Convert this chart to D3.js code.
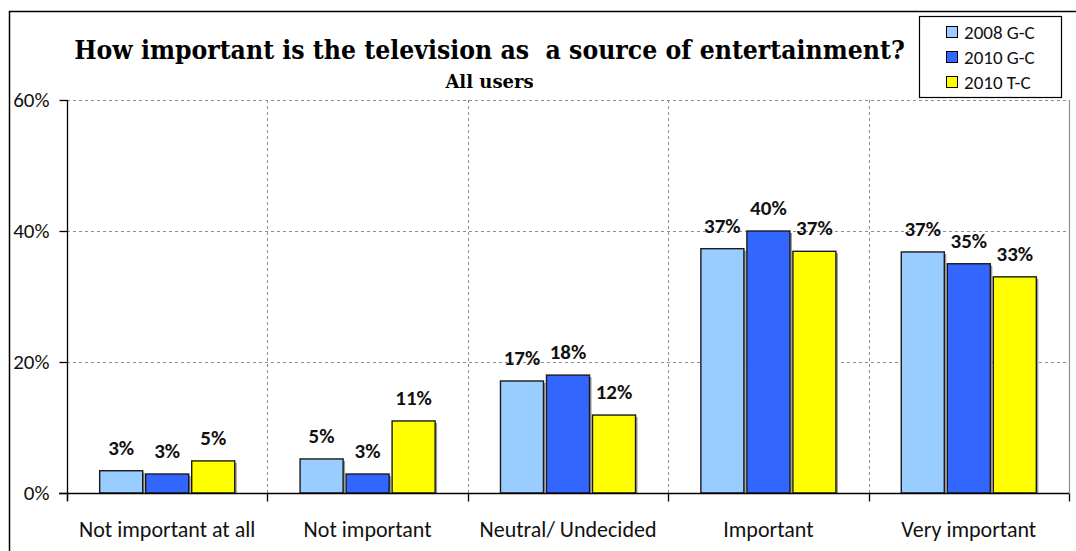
<!DOCTYPE html>
<html>
<head>
<meta charset="utf-8">
<script src="https://cdn.jsdelivr.net/npm/d3@7"></script>
<style>
  body { margin: 0; background: #fff; }
  svg { display: block; }
</style>
</head>
<body>
<div id="chart"></div>
<script>
// chart data
const categories = ["Not important at all", "Not important", "Neutral/ Undecided", "Important", "Very important"];
const seriesNames = ["2008 G-C", "2010 G-C", "2010 T-C"];
const gc2008 = [0.034, 0.052, 0.171, 0.373, 0.368];
const gc2010 = [0.029, 0.029, 0.180, 0.400, 0.350];
const tc2010 = [0.049, 0.110, 0.119, 0.369, 0.330];
const seriesColors = ["#99CCFF", "#3366FF", "#FFFF00"];
const yTicks = [0, 0.2, 0.4, 0.6];

const width = 1076, height = 551;
const margin = {top: 100, right: 7, bottom: 58, left: 67};
const bodyFont = "Carlito, Calibri, Lato, sans-serif";

const svg = d3.select("#chart").append("svg")
    .attr("width", width)
    .attr("height", height);

// outer chart border (runs off the picture on right/bottom)
svg.append("rect")
    .attr("x", 9.5).attr("y", 11.5)
    .attr("width", 1200).attr("height", 700)
    .attr("fill", "none")
    .attr("stroke", "#000")
    .attr("stroke-width", 1.5);

const x = d3.scaleBand()
    .domain(categories)
    .range([margin.left, width - margin.right]);

const y = d3.scaleLinear()
    .domain([0, 0.6])
    .range([height - margin.bottom, margin.top]);

// 3 bars of ~43px with 3px gaps inside a 200px category
const xSub = d3.scaleBand()
    .domain(seriesNames)
    .range([0, x.bandwidth()])
    .paddingInner(0.065)
    .paddingOuter(0.71);

const data = categories.map((c, i) => ({
    cat: c,
    vals: [gc2008[i], gc2010[i], tc2010[i]].map((v, j) => ({name: seriesNames[j], v: v, color: seriesColors[j]}))
}));

const x0 = margin.left, x1 = width - margin.right;
const yBase = y(0), yTop = y(0.6);

// horizontal dashed gridlines
svg.append("g").selectAll("line")
    .data(yTicks.filter(d => d > 0))
    .join("line")
    .attr("x1", x0).attr("x2", x1)
    .attr("y1", d => Math.round(y(d)) + 0.5)
    .attr("y2", d => Math.round(y(d)) + 0.5)
    .attr("stroke", "#8c8c8c")
    .attr("stroke-dasharray", "3,3");

// vertical dashed gridlines between categories
svg.append("g").selectAll("line")
    .data(categories.slice(1))
    .join("line")
    .attr("x1", d => Math.round(x(d)) + 0.5)
    .attr("x2", d => Math.round(x(d)) + 0.5)
    .attr("y1", yTop).attr("y2", yBase)
    .attr("stroke", "#8c8c8c")
    .attr("stroke-dasharray", "3,3");

// right plot border
svg.append("line")
    .attr("x1", x1 + 0.5).attr("x2", x1 + 0.5)
    .attr("y1", yTop).attr("y2", yBase)
    .attr("stroke", "#8c8c8c")
    .attr("stroke-width", 1.2);

// bars
const groups = svg.append("g").selectAll("g")
    .data(data)
    .join("g")
    .attr("transform", d => `translate(${x(d.cat)},0)`);

// little grey shadow at the bar edges
groups.selectAll("rect.shadow")
    .data(d => d.vals)
    .join("rect")
    .attr("class", "shadow")
    .attr("x", d => xSub(d.name) + 2)
    .attr("y", d => y(d.v) + 2)
    .attr("width", xSub.bandwidth())
    .attr("height", d => yBase - y(d.v) - 2)
    .attr("fill", "#9a9a9a");

groups.selectAll("rect.bar")
    .data(d => d.vals)
    .join("rect")
    .attr("class", "bar")
    .attr("x", d => xSub(d.name))
    .attr("y", d => y(d.v))
    .attr("width", xSub.bandwidth())
    .attr("height", d => yBase - y(d.v))
    .attr("fill", d => d.color)
    .attr("stroke", "#1a1a1a")
    .attr("stroke-width", 1.4);

// value labels
groups.selectAll("text")
    .data(d => d.vals)
    .join("text")
    .attr("x", d => xSub(d.name) + xSub.bandwidth() / 2)
    .attr("y", d => y(d.v) - 16)
    .attr("text-anchor", "middle")
    .attr("font-family", bodyFont)
    .attr("font-weight", "bold")
    .attr("font-size", 21)
    .attr("fill", "#111")
    .text(d => d3.format(".0%")(d.v));

// y axis
const yAxis = d3.axisLeft(y)
    .tickValues(yTicks)
    .tickFormat(d3.format(".0%"))
    .tickSize(8)
    .tickPadding(10);

const gy = svg.append("g")
    .attr("transform", `translate(${x0 + 0.5},0)`)
    .call(yAxis);
gy.select(".domain").attr("d", `M0,${yTop}V${yBase + 8}`).attr("stroke", "#000").attr("stroke-width", 1.3);
gy.selectAll(".tick line").attr("stroke", "#000").attr("stroke-width", 1.3);
gy.selectAll(".tick text")
    .attr("font-family", bodyFont)
    .attr("font-size", 21)
    .attr("fill", "#111");

// x axis: ticks sit on category boundaries
const gx = svg.append("g").attr("transform", `translate(0,${yBase + 0.5})`);
gx.append("line")
    .attr("x1", x0 - 8).attr("x2", x1)
    .attr("stroke", "#000").attr("stroke-width", 1.3);
gx.selectAll("line.tick")
    .data(categories.concat(["end"]))
    .join("line")
    .attr("class", "tick")
    .attr("x1", d => d === "end" ? x1 + 0.5 : Math.round(x(d)) + 0.5)
    .attr("x2", d => d === "end" ? x1 + 0.5 : Math.round(x(d)) + 0.5)
    .attr("y1", 0).attr("y2", 8)
    .attr("stroke", "#000").attr("stroke-width", 1.3);
gx.selectAll("text")
    .data(categories)
    .join("text")
    .attr("x", d => x(d) + x.bandwidth() / 2)
    .attr("y", 43)
    .attr("text-anchor", "middle")
    .attr("font-family", bodyFont)
    .attr("font-size", 22)
    .attr("fill", "#111")
    .text(d => d);

// title - squeeze horizontally to the reference width (~831px) with a scale
const titleWidth = 831;
const title = svg.append("text")
    .attr("x", 0)
    .attr("y", 0)
    .attr("text-anchor", "middle")
    .attr("font-family", "'DejaVu Serif', Cambria, serif")
    .attr("font-weight", "bold")
    .attr("font-size", 26)
    .style("white-space", "pre")
    .text("How important is the television as  a source of entertainment?");
const natural = title.node().getComputedTextLength();
const k = natural > 0 ? titleWidth / natural : 1;
title.attr("transform", `translate(489.5,59) scale(${k},1)`);

svg.append("text")
    .attr("x", 489.5)
    .attr("y", 88)
    .attr("text-anchor", "middle")
    .attr("font-family", "'DejaVu Serif', Cambria, serif")
    .attr("font-weight", "bold")
    .attr("font-size", 18)
    .text("All users");

// legend
const legend = svg.append("g");
legend.append("rect")
    .attr("x", 919.5).attr("y", 16.5)
    .attr("width", 142).attr("height", 81)
    .attr("fill", "#fff")
    .attr("stroke", "#000")
    .attr("stroke-width", 1.2);

const legendRows = legend.selectAll("g")
    .data(seriesNames)
    .join("g")
    .attr("transform", (d, i) => `translate(946,${32 + i * 25})`);

legendRows.append("rect")
    .attr("x", 0.5).attr("y", -5.5)
    .attr("width", 11).attr("height", 11)
    .attr("fill", (d, i) => seriesColors[i])
    .attr("stroke", "#000")
    .attr("stroke-width", 1);

legendRows.append("text")
    .attr("x", 18)
    .attr("y", 0)
    .attr("dy", "0.35em")
    .attr("font-family", bodyFont)
    .attr("font-size", 19)
    .attr("fill", "#111")
    .text(d => d);
</script>
</body>
</html>
